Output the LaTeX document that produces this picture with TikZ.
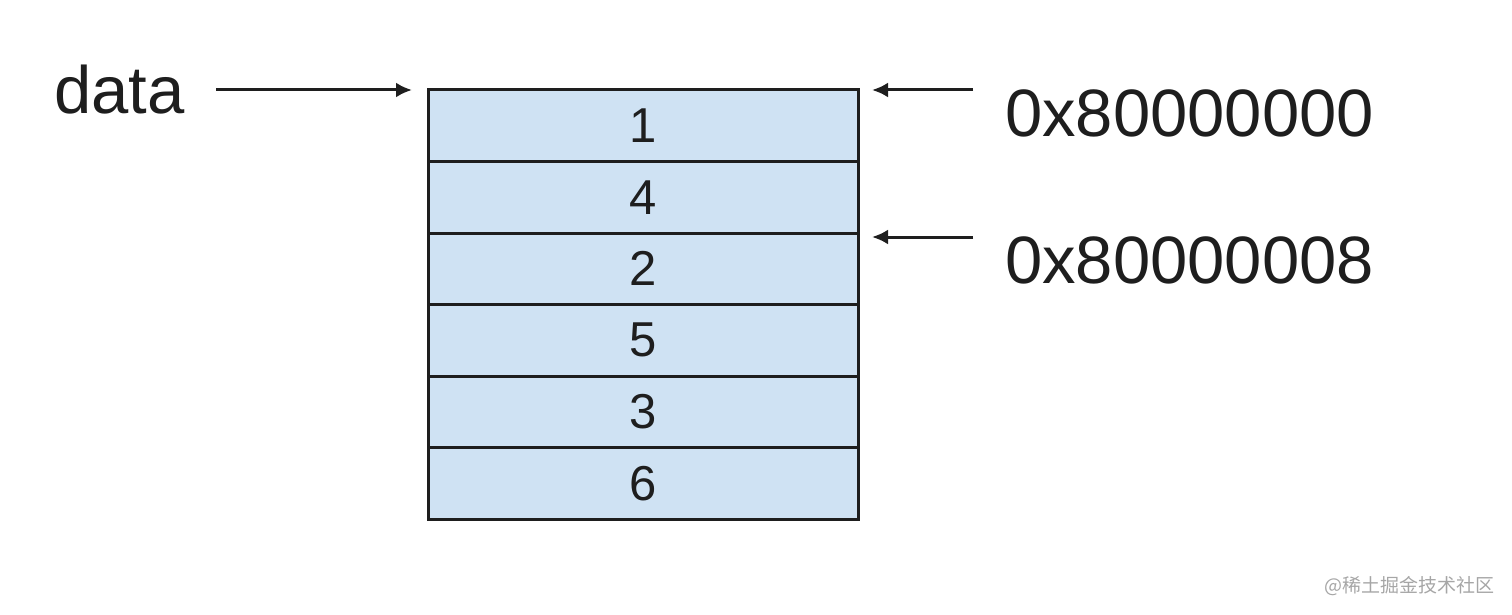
\documentclass[tikz,border=0pt]{standalone}
\usepackage{fontspec}
\setmainfont{Liberation Sans}
\newfontfamily\cjk{Noto Sans CJK SC}
\usetikzlibrary{arrows.meta}
\definecolor{cellblue}{HTML}{CFE2F3}
\definecolor{ink}{HTML}{1E1E1E}
\tikzset{
  cell/.style={draw=ink, fill=cellblue, line width=3pt, minimum width=430pt, minimum height=71.5pt, inner sep=0pt, outer sep=0pt, font=\fontsize{49}{49}\selectfont, text=ink},
  lbl/.style={font=\fontsize{67}{67}\selectfont, text=ink, inner sep=0pt},
  ptr/.style={draw=ink, line width=3pt, -{Latex[length=16pt,width=15pt]}},
}
\begin{document}
\begin{tikzpicture}[x=1pt,y=-1pt]
\useasboundingbox (0,0) rectangle (1512,615);
\foreach \v [count=\i] in {1,4,2,5,3,6}{
  \node[cell] (c\i) at (643, {90+71.5*(\i-0.5)}) {\v};
}
\node[lbl, anchor=west] (data) at (54,90) {data};
\node[lbl, anchor=west] (a0) at (1005,113) {0x80000000};
\node[lbl, anchor=west] (a8) at (1005,260) {0x80000008};
\coordinate (dtail) at (216,90);
\coordinate (dtip) at (412,90);
\draw[ptr] (dtail) -- (dtip);
\coordinate (t0) at (973,90);
\coordinate (h0) at (872,90);
\draw[ptr] (t0) -- (h0);
\coordinate (t8) at (973,237);
\coordinate (h8) at (872,237);
\draw[ptr] (t8) -- (h8);
\node[anchor=east, text=gray!70, font=\cjk\fontsize{19}{19}\selectfont, inner sep=0pt] (wm) at (1495,586) {@稀土掘金技术社区};
\end{tikzpicture}
\end{document}
